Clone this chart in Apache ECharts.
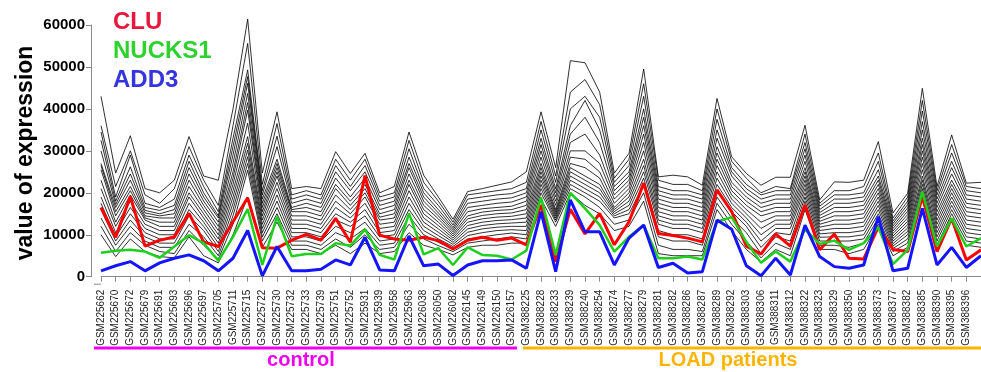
<!DOCTYPE html>
<html>
<head>
<meta charset="utf-8">
<script src="https://cdn.jsdelivr.net/npm/echarts@6/dist/echarts.min.js"></script>
<style>
  html, body { margin: 0; padding: 0; background: #fff; }
  #chart { width: 981px; height: 372px; }
</style>
</head>
<body>
<div id="chart"></div>
<script>
// Sample identifiers (x axis)
const controlSamples = ['GSM225662','GSM225670','GSM225672','GSM225679','GSM225691','GSM225693','GSM225696','GSM225697','GSM225705','GSM225711','GSM225715','GSM225722','GSM225730','GSM225732','GSM225733','GSM225739','GSM225751','GSM225752','GSM225931','GSM225939','GSM225958','GSM225963','GSM226038','GSM226050','GSM226082','GSM226145','GSM226149','GSM226150','GSM226157'];
const loadSamples = ['GSM388225','GSM388228','GSM388233','GSM388239','GSM388240','GSM388254','GSM388274','GSM388277','GSM388279','GSM388281','GSM388282','GSM388286','GSM388287','GSM388289','GSM388292','GSM388303','GSM388306','GSM388311','GSM388312','GSM388322','GSM388323','GSM388329','GSM388350','GSM388355','GSM388373','GSM388377','GSM388382','GSM388385','GSM388390','GSM388395','GSM388396'];
// one more sample continues past the right edge of the plot
const trailingSamples = [''];

const yTicks = [0, 10000, 20000, 30000, 40000, 50000, 60000];

// Highlighted genes
const cluValues = [16500,9400,19100,7300,8700,9500,15100,8300,7200,13100,18800,6900,6800,8700,10100,8700,13900,8200,24100,9900,9000,8700,9400,8600,6600,8700,9400,8700,9200,7600,
  17100,3600,16100,10200,15100,7600,13100,22300,10300,9800,9200,8300,20700,15500,7300,5400,10200,7300,17100,6400,10200,4400,4200,11900,6500,6000,19100,6000,13900,4000,6400];
const nucks1Values = [5700,6200,6400,6000,4500,7200,9900,8000,3800,9500,16100,2800,14300,4900,5400,5400,8000,7400,11300,5200,4100,15100,5300,6800,2800,7000,5200,5000,4100,6200,
  18900,5200,20000,16300,12300,6000,9500,12300,4400,4400,4800,4100,13100,14200,8300,3300,6000,3600,11300,7800,8600,6400,8000,11800,3000,6400,20300,7200,13900,7200,9200];
const add3Values = [1400,2600,3600,1400,3300,4400,5200,3800,1400,4400,11000,200,7200,1400,1400,1800,4000,2800,9400,1600,1400,9700,2600,3000,300,2800,3800,3800,4000,2000,
  15500,1200,18300,10700,10700,2800,9200,12300,2200,3200,900,1200,13500,11300,2600,200,4400,400,12300,4800,2400,2000,2800,14300,1400,2000,16300,2800,7000,2200,5000];

// Remaining genes, one row per sample (same order as the samples above)
const otherGenesBySample = [
  [43000,36000,34500,32500,30000,27000,26500,25500,23000,21000,19000,17500,16000,14000,12000,10000],
  [24700,21500,19000,18000,17200,16500,15500,14500,13000,12000,10500,9500,8500,7500,6000,4800],
  [33600,30000,29000,26200,24500,23000,21500,20500,19500,18000,16500,15000,13500,12000,10500,9000],
  [21000,19500,17500,16500,15800,15200,14500,14000,13500,12500,11500,10500,9500,8500,7500,6000],
  [20000,17500,16500,15800,15000,14500,14000,13000,12000,11000,10000,9000,8000,7000,6000,4800],
  [23000,21000,18500,17000,16000,15000,14000,13000,12000,11000,10000,9000,8000,7000,5500,4500],
  [33400,31000,29000,27500,26000,24500,23000,21500,20000,19000,17500,16000,14500,12500,11000,9500],
  [24000,23000,21500,20000,19000,18000,17000,16000,15000,14000,13000,12000,11000,9500,7500,5000],
  [23000,17000,15500,14500,14000,13000,12000,11000,10000,9000,8000,7000,6000,5000,4200,3300],
  [40000,36000,33000,31000,29000,27000,25000,23500,22000,20500,19000,17500,16000,14500,12500,10000],
  [61400,55600,49300,47700,46100,43700,41500,39700,36600,33400,31800,30200,28600,27000,25400,19000],
  [24700,22000,20500,19500,18500,17500,16500,15500,14500,13500,12500,11500,10500,9500,8500,7000],
  [39300,36500,33500,31000,28000,27000,26000,25000,24000,22500,21000,19500,18000,16500,15000,13000],
  [21000,19500,18500,17500,16500,16000,15500,14500,13500,12500,11500,10500,9500,8500,7500,6500],
  [21500,20500,19500,18500,17500,16500,15500,14500,13500,12500,11500,10500,9500,8500,7500,6500],
  [21000,19500,18500,17500,16500,15500,14500,13500,12500,11500,10500,9500,8500,7500,6500,5500],
  [29800,28000,26500,25000,23500,22000,21000,19500,18000,16500,15000,13500,12000,10500,9000,7500],
  [24600,23000,21500,20500,19000,18000,17000,16000,15000,14000,13000,12000,10500,9000,7000,5500],
  [29400,28000,26500,25000,23500,22000,21000,20000,19000,17500,16000,14500,13000,11500,10000,8000],
  [20000,19000,18000,17000,16000,15000,14200,13500,12500,11500,10500,9500,8500,7500,6500,5500],
  [21500,20000,19000,18000,17000,16000,15000,14000,13000,12000,11000,10000,9000,8000,7000,6000],
  [34500,32500,30500,28500,27000,26000,24500,23000,22000,20500,19000,17500,16000,14500,12500,10500],
  [24200,22500,21000,20000,19000,18000,17000,16000,15000,14000,13000,12000,11000,10000,9000,7500],
  [19000,18000,17000,16000,15200,14500,13800,13000,12200,11400,10600,9800,9000,8200,7400,6500],
  [13700,13000,12300,11700,11200,10700,10200,9700,9200,8700,8200,7700,7200,6700,6000,5200],
  [20300,19500,18500,17500,16500,15500,14500,13800,13000,12200,11400,10600,9800,9000,8000,7000],
  [21000,20000,19000,18000,17000,16200,15400,14600,13800,13000,12200,11400,10500,9500,8500,7500],
  [21800,20500,19500,18500,17500,16500,15800,15000,14200,13400,12600,11800,11000,10000,9000,7500],
  [22600,21000,19800,18800,17800,16800,16000,15200,14400,13600,12800,12000,11200,10400,9500,8000],
  [25000,22500,21000,20000,19000,18000,17000,16000,15000,14000,13000,12000,11000,10000,9000,8000],
  [39300,37000,35000,33000,31500,30000,28500,27000,26000,25000,24000,23000,22000,21000,20000,18500],
  [26000,24000,22500,21000,20000,19000,18000,17000,16000,15500,15000,14500,14000,13500,13000,12000],
  [51500,44000,40000,36000,34000,32000,30000,28500,27000,26000,25000,24000,23000,22000,21000,20000],
  [51000,47000,43000,42000,38000,34000,30000,28000,26000,24000,23000,22000,21000,20000,19000,17000],
  [44000,41000,38000,35000,32000,29000,27000,25000,23500,22000,21000,20000,19000,18000,16500,15000],
  [24700,23500,22500,21500,20500,19500,18500,17500,16500,16000,15500,15000,14500,14000,12500,11000],
  [29400,28000,26500,25000,24000,23000,22000,21000,20000,19000,18000,17000,16000,15000,13500,12000],
  [49500,46000,43000,40000,38000,36000,34000,32000,30000,28000,26500,25000,23500,22000,20000,18000],
  [23800,23000,21500,20500,19500,18500,17500,16500,15500,14500,13500,12500,11000,9500,7500,5500],
  [24200,22000,20500,19500,18500,17500,16500,15500,14500,13500,12500,11500,10000,8500,6500,5000],
  [23800,22000,20500,19500,18500,17500,16500,15500,14500,13500,12500,11500,10000,8500,6500,5000],
  [21800,20500,19500,18500,17500,16500,15500,14500,13500,12500,11500,10500,9000,7500,6000,5000],
  [42500,40000,37500,35000,33000,31000,29500,28000,26500,25000,23500,22000,20500,19000,17500,16000],
  [28600,27500,26000,25000,24000,22500,21500,20500,19500,18500,17500,16500,15500,14000,12500,11000],
  [24600,23500,22000,21000,20000,19000,18000,17000,16000,15000,14000,13000,12000,10500,8500,6500],
  [21800,20000,19500,18500,17500,16500,15500,14500,13000,11500,10000,8500,7000,5500,4500,3500],
  [23700,21500,20500,19500,18500,17500,16500,15500,14500,13500,12500,11500,10500,9500,8000,6500],
  [23700,21000,20500,19500,18500,17500,16500,15500,14500,13500,12500,11500,10000,8500,6500,5000],
  [36100,34000,32000,30500,29000,27500,26000,25000,24000,23000,22000,21000,20000,19000,18000,16000],
  [18300,17500,16800,16000,15300,14600,13900,13200,12500,11800,11000,10200,9400,8500,7500,6500],
  [22600,20500,19500,18500,17500,16500,15500,14500,13500,12500,11500,10500,9500,8500,7500,6500],
  [22500,20500,19500,18500,17500,16500,15500,14500,13500,12500,11500,10500,9500,8500,7000,5500],
  [23000,21500,20000,19000,18000,17000,16000,15000,14000,13000,12000,11000,10000,9000,8000,6500],
  [32200,29500,27500,25500,24000,23000,22000,21000,20000,19000,18000,17000,16000,15000,14000,12500],
  [15200,14000,13300,12700,12100,11500,10900,10300,9700,9100,8500,7900,7300,6700,6000,5000],
  [19900,19000,18000,17200,16400,15600,14800,14000,13200,12400,11600,10800,10000,9000,8000,7000],
  [44900,42000,39500,37000,35000,33000,31500,30000,28500,27000,25500,24000,23000,22000,21000,20000],
  [21500,20500,19500,18500,17500,16500,15500,14500,13500,12500,11500,10500,9500,8500,7500,6500],
  [33800,31500,29500,27500,26000,24500,23000,22000,21000,20000,19000,18000,17000,16000,15000,13500],
  [22300,21500,20500,19500,18500,17500,16500,15500,14500,13500,12500,11500,10500,9500,8500,7500],
  [22500,21000,20000,19000,18000,17000,16000,15000,14000,13000,12000,11000,10000,9000,8000,7000]
];

const samples = controlSamples.concat(loadSamples, trailingSamples);
const FONT = '"Liberation Sans", Arial, Helvetica, sans-serif';

// one series per background gene, built from the per-sample rows
const geneCount = otherGenesBySample[0].length;
const backgroundSeries = [];
for (let g = 0; g < geneCount; g++) {
  backgroundSeries.push({
    type: 'line',
    data: otherGenesBySample.map(row => row[g]),
    symbol: 'none',
    silent: true,
    clip: false,
    lineStyle: { color: '#000', width: 0.9, opacity: 0.9 },
    z: 2
  });
}

function highlight(name, values, color, width, z) {
  return {
    name, type: 'line', data: values, symbol: 'none', silent: true, clip: false,
    lineStyle: { color, width }, z
  };
}

const AXIS_Y = 25 + 251.7 + 7; // x axis line position (grid bottom + offset)

const chart = echarts.init(document.getElementById('chart'), null, { renderer: 'canvas' });
chart.setOption({
  animation: false,
  backgroundColor: '#fff',
  grid: { left: 101, top: 25, width: 886.2, height: 251.7, containLabel: false },
  xAxis: {
    type: 'category',
    data: samples,
    boundaryGap: false,
    offset: 7,
    axisLine: { show: true, lineStyle: { color: '#8a8a8a', width: 1 } },
    axisTick: { show: true, length: 5, interval: 0, lineStyle: { color: '#8a8a8a' } },
    axisLabel: { interval: 0, rotate: 90, fontSize: 10, color: '#222', margin: 6, fontFamily: FONT },
    splitLine: { show: false }
  },
  yAxis: {
    type: 'value',
    min: yTicks[0],
    max: yTicks[yTicks.length - 1],
    interval: yTicks[1] - yTicks[0],
    offset: 10,
    axisLine: { show: true, lineStyle: { color: '#8a8a8a', width: 1 } },
    axisTick: { show: true, length: 5, lineStyle: { color: '#8a8a8a' } },
    axisLabel: { fontSize: 15, fontWeight: 'bold', color: '#000', margin: 6, fontFamily: FONT,
      formatter: v => String(v) },
    splitLine: { show: false }
  },
  series: backgroundSeries.concat([
    highlight('CLU', cluValues, '#ff0000', 3, 5),
    highlight('NUCKS1', nucks1Values, '#1ecf1e', 2.5, 6),
    highlight('ADD3', add3Values, '#1414ff', 3, 7)
  ]),
  graphic: [
    // short lead-in of the x axis line before the first sample
    { type: 'line', shape: { x1: 94, y1: AXIS_Y + 0.5, x2: 101, y2: AXIS_Y + 0.5 }, style: { stroke: '#8a8a8a', lineWidth: 1 } },
    { type: 'text', x: 26, y: 153, rotation: Math.PI / 2,
      style: { text: 'value of expression', fill: '#000', font: 'bold 23px ' + FONT, align: 'center', verticalAlign: 'middle' } },
    { type: 'text', x: 113, y: 22,
      style: { text: 'CLU', fill: '#e8173c', font: 'bold 24px ' + FONT, align: 'left', verticalAlign: 'middle' } },
    { type: 'text', x: 113, y: 51,
      style: { text: 'NUCKS1', fill: '#2ed12e', font: 'bold 24px ' + FONT, align: 'left', verticalAlign: 'middle' } },
    { type: 'text', x: 113, y: 80,
      style: { text: 'ADD3', fill: '#3535e0', font: 'bold 24px ' + FONT, align: 'left', verticalAlign: 'middle' } },
    { type: 'line', shape: { x1: 94, y1: 348, x2: 517, y2: 348 }, style: { stroke: '#f000f0', lineWidth: 3 } },
    { type: 'line', shape: { x1: 523, y1: 348, x2: 981, y2: 348 }, style: { stroke: '#ffb400', lineWidth: 3 } },
    { type: 'text', x: 301, y: 360,
      style: { text: 'control', fill: '#f000f0', font: 'bold 20px ' + FONT, align: 'center', verticalAlign: 'middle' } },
    { type: 'text', x: 728, y: 360,
      style: { text: 'LOAD patients', fill: '#ffb400', font: 'bold 20px ' + FONT, align: 'center', verticalAlign: 'middle' } }
  ]
});
</script>
</body>
</html>
